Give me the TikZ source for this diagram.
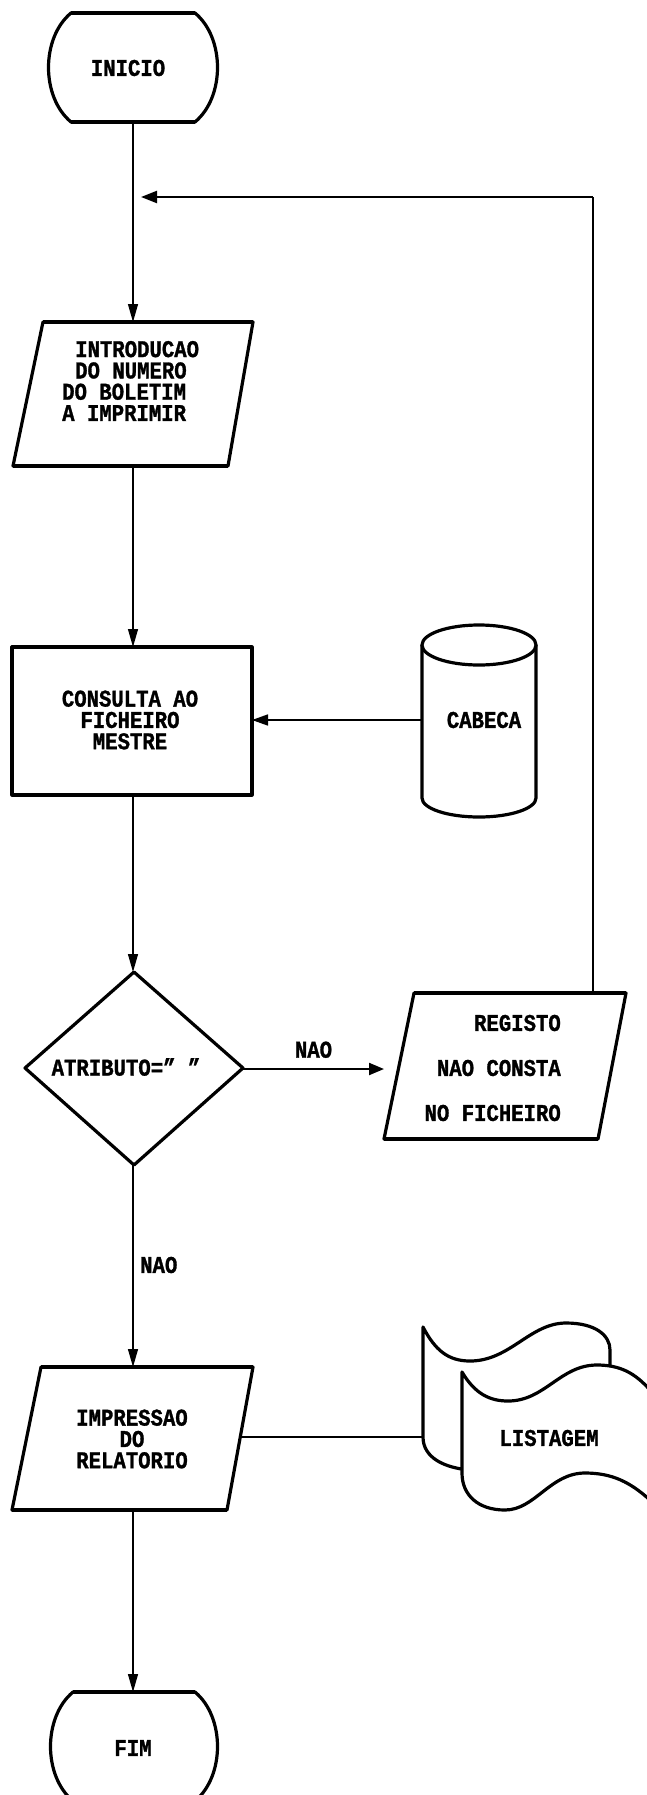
\documentclass[tikz,border=0pt]{standalone}
\usepackage{fontspec}
\newfontfamily\chartfont{Liberation Mono}[FakeStretch=0.86, BoldFeatures={FakeBold=1.2}]
\usetikzlibrary{arrows.meta}
\tikzset{
  shp/.style={line width=3.2pt, line join=round, fill=white},
  topedge/.style={line width=4.6pt},
  conn/.style={line width=1.3pt},
  arr/.style={conn, -{Triangle[length=18pt,width=10pt]}},
  boldarr/.style={line width=2.2pt, -{Triangle[length=15pt,width=12pt]}},
  lbl/.style={font=\chartfont\bfseries\fontsize{24}{21.3}\selectfont, inner sep=0pt},
}
\begin{document}
\begin{tikzpicture}[x=1pt,y=-1pt]
\useasboundingbox (0,0) rectangle (646,1795);
\fill[white] (0,0) rectangle (646,1795);

% INICIO terminal
\draw[shp] (71,13) -- (195,13) .. controls (225,38) and (225,97) .. (195,122) -- (71,122) .. controls (41,97) and (41,38) .. (71,13) -- cycle;
\draw[topedge] (71,13) -- (195,13) (71,122) -- (195,122);
\node[lbl] (ini) at (128,68) {INICIO};
\coordinate (ini-s) at (133,122);

% INTRODUCAO parallelogram
\draw[shp] (43,322) -- (253,322) -- (228,466) -- (13,466) -- cycle;
\draw[topedge] (43,322) -- (253,322) (13,466) -- (228,466);
\node[lbl, align=left, anchor=west] (intro) at (62,381) {\hspace*{13pt}INTRODUCAO\\\hspace*{13pt}DO NUMERO\\DO BOLETIM\\A IMPRIMIR};
\coordinate (intro-n) at (133,322);
\coordinate (intro-s) at (133,466);

% CONSULTA rectangle
\draw[shp] (12,647) rectangle (252,795);
\node[lbl, align=center] (cons) at (130,720) {CONSULTA AO\\FICHEIRO\\MESTRE};
\coordinate (cons-n) at (133,647);
\coordinate (cons-e) at (252,720);
\coordinate (cons-s) at (133,795);

% CABECA cylinder
\draw[shp] (422,645) -- (422,798) arc[start angle=180,end angle=0,x radius=57,y radius=19] -- (536,645);
\draw[shp] (479,645) ellipse[x radius=57,y radius=20];
\node[lbl] (cab) at (484,720) {CABECA};
\coordinate (cab-w) at (422,720);

% decision diamond
\draw[shp] (134,972) -- (243,1068) -- (134,1165) -- (25,1068) -- cycle;
\node[lbl] (dec) at (126,1067) {ATRIBUTO=” ”};
\coordinate (dec-n) at (133,972);
\coordinate (dec-e) at (243,1069);
\coordinate (dec-s) at (133,1165);

% REGISTO parallelogram
\draw[shp] (414,993) -- (626,993) -- (598,1139) -- (384,1139) -- cycle;
\draw[topedge] (414,993) -- (626,993) (384,1139) -- (598,1139);
\node[lbl, anchor=east] (reg1) at (561,1023) {REGISTO};
\node[lbl, anchor=east] (reg2) at (561,1068) {NAO CONSTA};
\node[lbl, anchor=east] (reg3) at (561,1113) {NO FICHEIRO};
\coordinate (reg-w) at (384,1069);
\coordinate (reg-n) at (593,993);
\coordinate (fb-in) at (141,197);

% IMPRESSAO parallelogram
\draw[shp] (41,1367) -- (253,1367) -- (227,1510) -- (12,1510) -- cycle;
\draw[topedge] (41,1367) -- (253,1367) (12,1510) -- (227,1510);
\node[lbl, align=center] (imp) at (132,1439) {IMPRESSAO\\DO\\RELATORIO};
\coordinate (imp-n) at (133,1367);
\coordinate (imp-e) at (240,1437);
\coordinate (imp-s) at (133,1510);

% LISTAGEM multi-document
\draw[shp] (423,1327) .. controls (435,1350) and (448,1361) .. (470,1361)
  .. controls (510,1361) and (530,1323) .. (566,1323)
  .. controls (595,1323) and (610,1335) .. (610,1350) -- (610,1460)
  .. controls (590,1445) and (585,1440) .. (570,1440)
  .. controls (540,1440) and (510,1470) .. (470,1470)
  .. controls (445,1468) and (423,1458) .. (423,1437) -- cycle;
\draw[shp] (462,1372) .. controls (475,1394) and (490,1401) .. (508,1401)
  .. controls (545,1401) and (560,1365) .. (597,1365)
  .. controls (620,1365) and (635,1373) .. (650,1390) -- (690,1430) -- (690,1530)
  -- (650,1500) .. controls (630,1482) and (612,1473) .. (585,1473)
  .. controls (550,1473) and (535,1510) .. (505,1510)
  .. controls (478,1510) and (462,1495) .. (462,1473) -- cycle;
\node[lbl] (list) at (549,1438) {LISTAGEM};
\coordinate (list-w) at (423,1437);

% FIM terminal
\draw[shp] (73,1692) -- (195,1692) .. controls (225,1717) and (225,1776) .. (195,1801) -- (73,1801) .. controls (43,1776) and (43,1717) .. (73,1692) -- cycle;
\draw[topedge] (73,1692) -- (195,1692);
\node[lbl] (fim) at (133,1748) {FIM};
\coordinate (fim-n) at (133,1692);

% connectors
\draw[arr] (ini-s) -- (intro-n);
\draw[arr] (intro-s) -- (cons-n);
\draw[arr] (cons-s) -- (dec-n);
\draw[line width=1.6pt, -{Triangle[length=16pt,width=11pt]}] (cab-w) -- (cons-e);
\draw[boldarr] (dec-e) -- node[lbl, above=10pt] (nao1) {NAO} (reg-w);
\draw[arr] (dec-s) -- (imp-n);
\node[lbl, anchor=west] (nao2) at (140,1265) {NAO};
\draw[conn] (reg-n) -- (reg-n |- fb-in);
\draw[line width=2.2pt, -{Triangle[length=16pt,width=12pt]}] (reg-n |- fb-in) -- (fb-in);
\draw[line width=1.6pt] (imp-e) -- (list-w);
\draw[arr] (imp-s) -- (fim-n);
\end{tikzpicture}
\end{document}
